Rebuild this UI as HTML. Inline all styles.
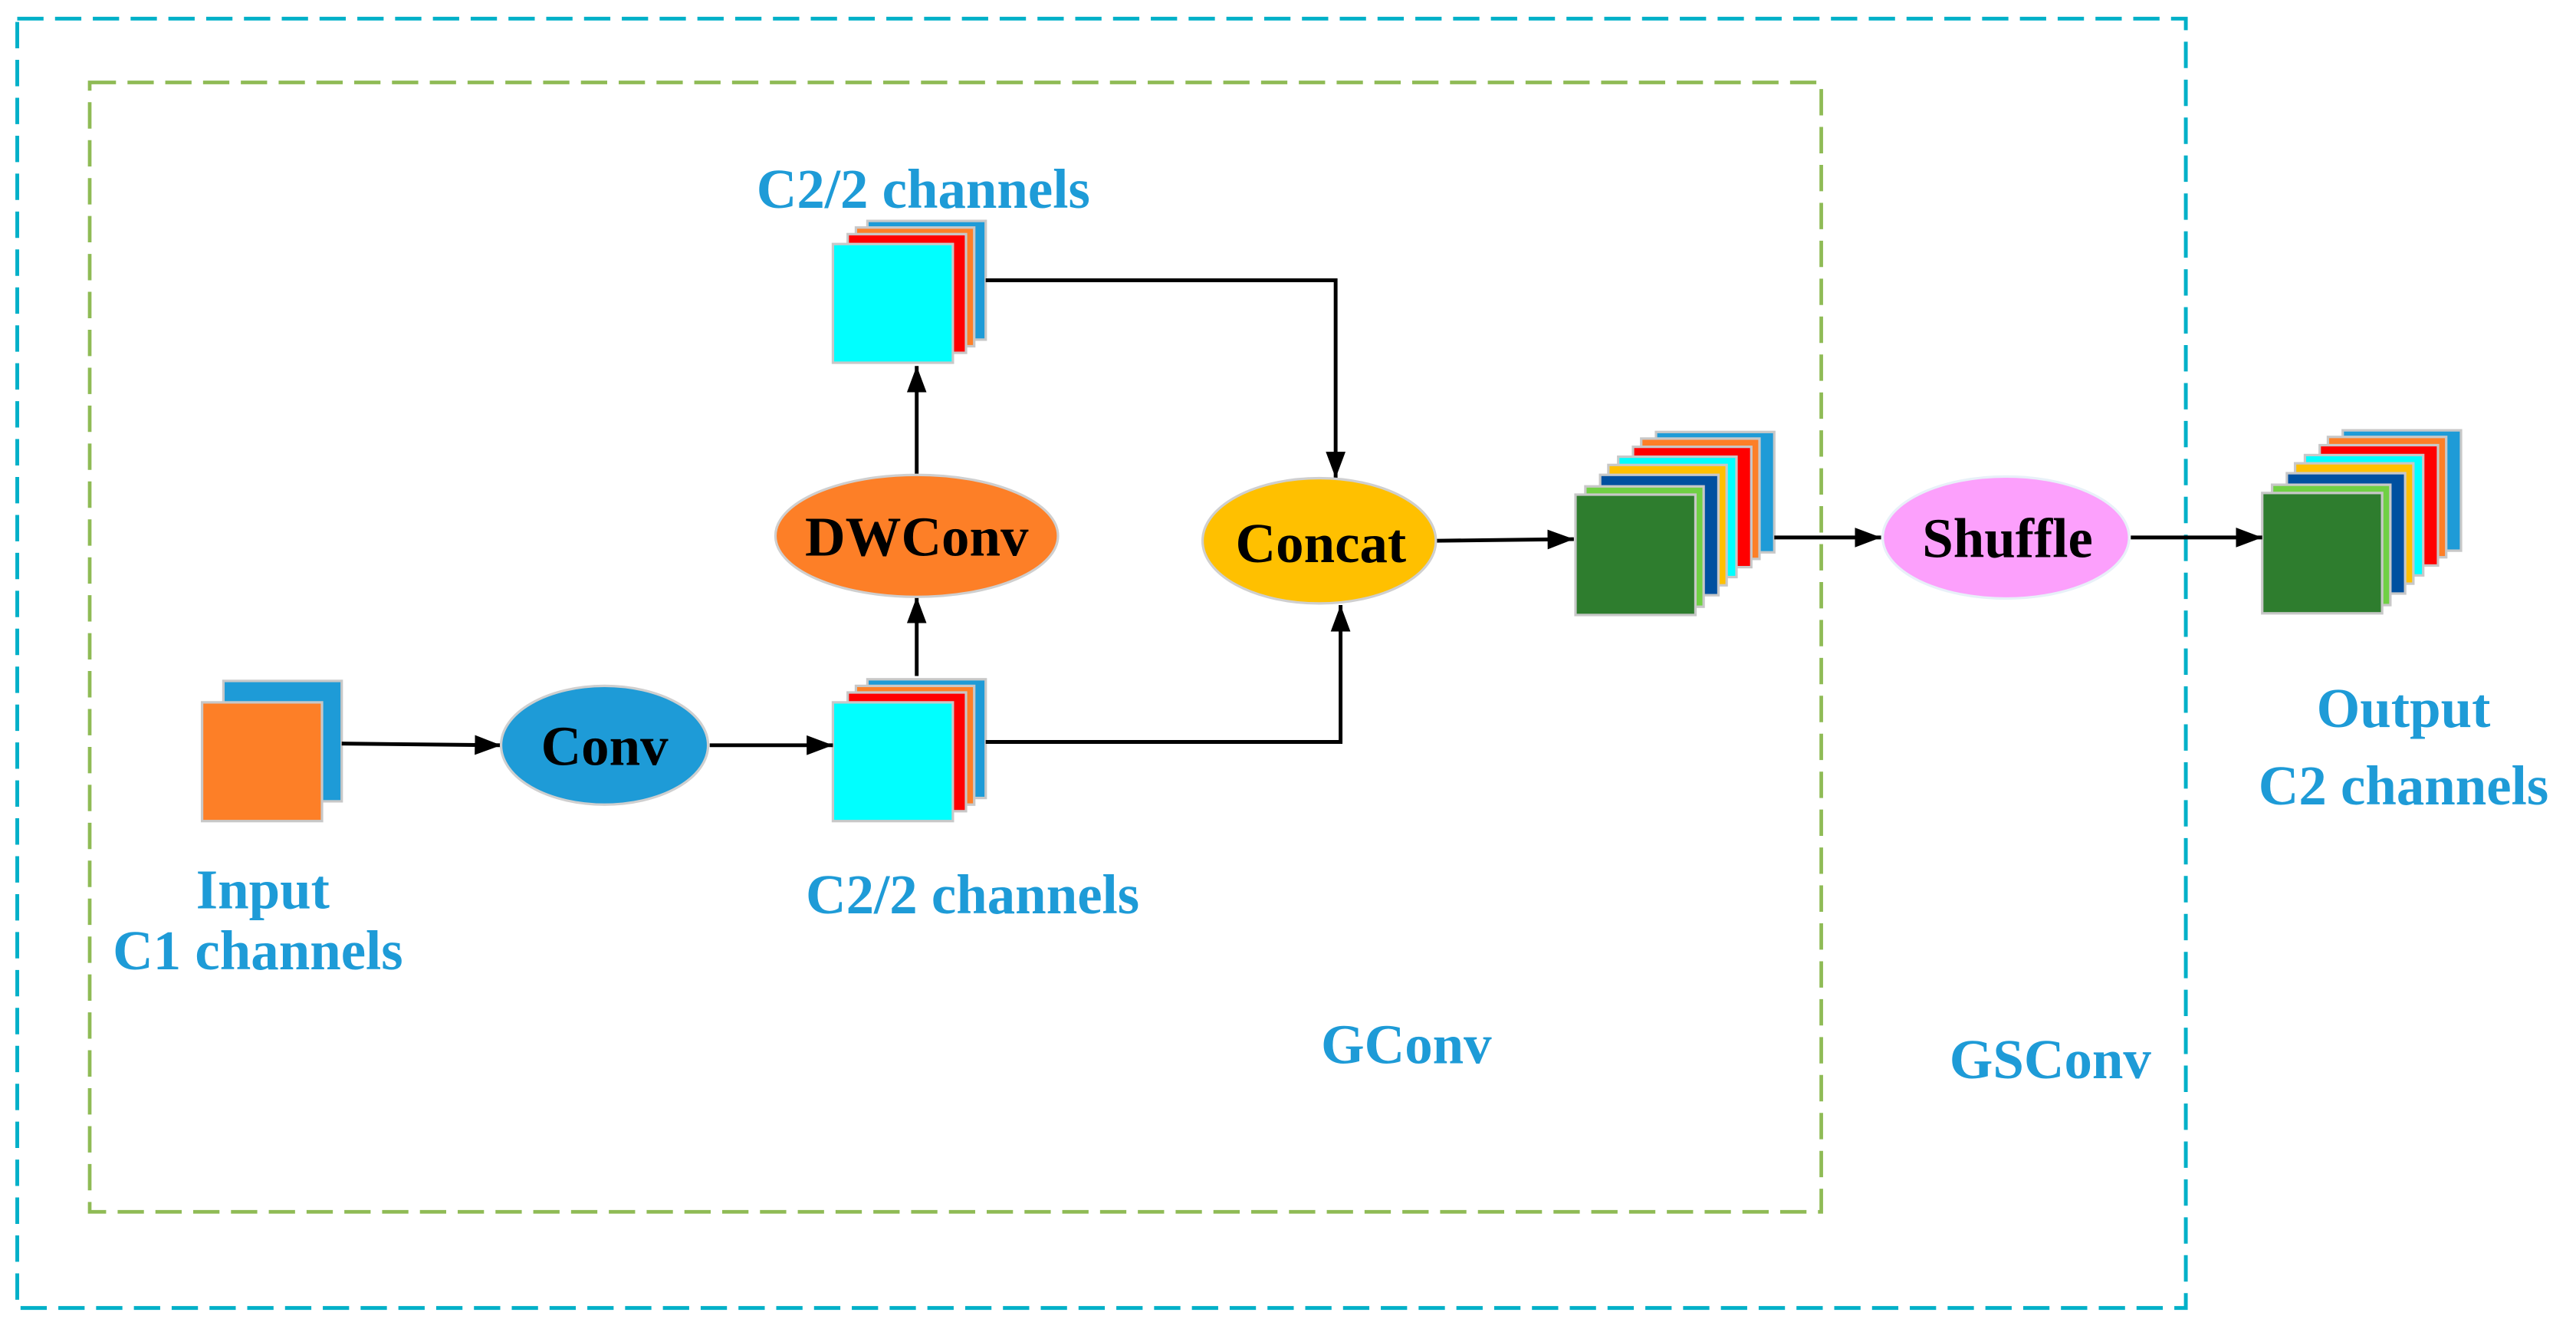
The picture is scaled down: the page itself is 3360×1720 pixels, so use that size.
<!DOCTYPE html>
<html><head><meta charset="utf-8"><style>
html,body{margin:0;padding:0;background:#fff;}
svg{display:block;}
text{font-family:"Liberation Serif",serif;font-weight:bold;}
</style></head><body>
<svg width="3360" height="1720" viewBox="0 0 1568 800" preserveAspectRatio="none" xmlns="http://www.w3.org/2000/svg">
<defs>
<marker id="ah" markerWidth="16" markerHeight="12" refX="16" refY="6" orient="auto" markerUnits="userSpaceOnUse" viewBox="0 0 16 12">
<path d="M0,0 L16,6 L0,12 z" fill="#000"/></marker>
</defs>
<rect x="10.5" y="11.3" width="1320" height="782" fill="none" stroke="#00b0c8" stroke-width="2.3" stroke-dasharray="16 7"/>
<rect x="54.6" y="50" width="1054" height="685" fill="none" stroke="#8fbb55" stroke-width="2.2" stroke-dasharray="16 7"/>

<g stroke="#c8c8c8" stroke-width="1.5">
<rect x="136" y="413" width="72" height="73" fill="#1e9bd7"/>
<rect x="123" y="426" width="73" height="72" fill="#fd7f27"/>
<rect x="528" y="412" width="72" height="72" fill="#1e9bd7"/>
<rect x="521" y="416" width="72" height="72" fill="#fd7f27"/>
<rect x="516" y="420" width="72" height="72" fill="#ff0000"/>
<rect x="507" y="426" width="73" height="72" fill="#00ffff"/>
<rect x="528" y="134" width="72" height="72" fill="#1e9bd7"/>
<rect x="521" y="138" width="72" height="72" fill="#fd7f27"/>
<rect x="516" y="142" width="72" height="72" fill="#ff0000"/>
<rect x="507" y="148" width="73" height="72" fill="#00ffff"/>
</g>
<g id="gs" stroke="#c8c8c8" stroke-width="1.5">
<rect x="1008" y="262" width="72" height="73" fill="#1e9bd7"/>
<rect x="999" y="266" width="72" height="73" fill="#fd7f27"/>
<rect x="994" y="271" width="72" height="73" fill="#ff0000"/>
<rect x="985" y="277" width="72" height="73" fill="#00ffff"/>
<rect x="979" y="282" width="72" height="73" fill="#ffc000"/>
<rect x="974" y="288" width="72" height="73" fill="#0050a0"/>
<rect x="965" y="295" width="72" height="73" fill="#70d044"/>
<rect x="959" y="300" width="73" height="73" fill="#2e7d2e"/>
</g>
<use href="#gs" transform="translate(418,-1)"/>

<g stroke="#000" stroke-width="2.3" fill="none">
<line x1="208" y1="451" x2="305" y2="452" marker-end="url(#ah)"/>
<line x1="432" y1="452" x2="507" y2="452" marker-end="url(#ah)"/>
<line x1="558" y1="410" x2="558" y2="362" marker-end="url(#ah)"/>
<line x1="558" y1="288" x2="558" y2="222" marker-end="url(#ah)"/>
<polyline points="600,170 813,170 813,290" marker-end="url(#ah)"/>
<polyline points="600,450 816,450 816,367" marker-end="url(#ah)"/>
<line x1="873" y1="328" x2="958" y2="327" marker-end="url(#ah)"/>
<line x1="1080" y1="326" x2="1145" y2="326" marker-end="url(#ah)"/>
<line x1="1297" y1="326" x2="1377" y2="326" marker-end="url(#ah)"/>
</g>

<g stroke="#cfcfcf" stroke-width="1.5">
<ellipse cx="368" cy="452" rx="63" ry="36" fill="#1e9bd7"/>
<ellipse cx="558" cy="325" rx="86" ry="37" fill="#fd7f27"/>
<ellipse cx="803" cy="328" rx="71" ry="38" fill="#ffc000"/>
<ellipse cx="1221" cy="326" rx="75" ry="37" fill="#fca0fc" stroke="#e8f0f8"/>
</g>
<g fill="#000" font-size="34" text-anchor="middle">
<text x="368" y="464">Conv</text>
<text x="558" y="337">DWConv</text>
<text x="804" y="341">Concat</text>
<text x="1222" y="338">Shuffle</text>
</g>
<g fill="#1e9bd7" font-size="34" text-anchor="middle">
<text x="562" y="126">C2/2 channels</text>
<text x="592" y="554">C2/2 channels</text>
<text x="160" y="551">Input</text>
<text x="157" y="588">C1 channels</text>
<text x="1463" y="441">Output</text>
<text x="1463" y="488">C2  channels</text>
<text x="856" y="645">GConv</text>
<text x="1248" y="654">GSConv</text>
</g>
</svg>
</body></html>
